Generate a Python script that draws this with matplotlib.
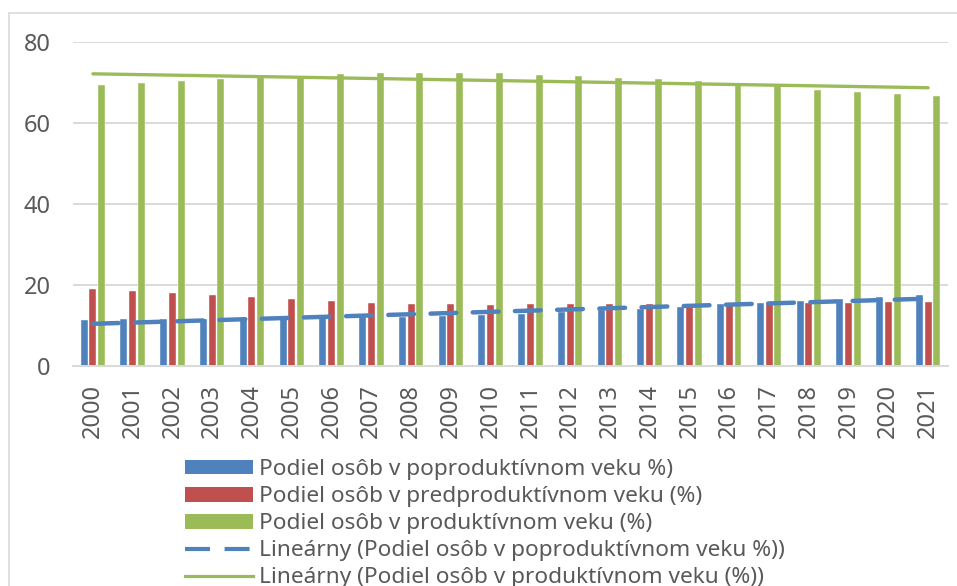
import numpy as np
import matplotlib
matplotlib.use("Agg")
import matplotlib.pyplot as plt
from matplotlib.patches import Patch, Rectangle
from matplotlib.lines import Line2D

years = [str(y) for y in range(2000, 2022)]
post_productive = [11.4, 11.5, 11.5, 11.6, 11.7, 11.8, 11.9, 12.1, 12.2, 12.4, 12.6,
                   12.9, 13.3, 13.7, 14.1, 14.6, 15.2, 15.6, 16.1, 16.6, 17.1, 17.4]
pre_productive = [19.0, 18.6, 18.0, 17.5, 17.0, 16.5, 16.0, 15.6, 15.4, 15.2, 15.1,
                  15.3, 15.2, 15.2, 15.2, 15.3, 15.3, 15.5, 15.6, 15.6, 15.8, 15.9]
productive = [69.4, 69.9, 70.4, 70.9, 71.2, 71.5, 72.0, 72.3, 72.4, 72.4, 72.3,
              71.8, 71.5, 71.1, 70.7, 70.2, 69.4, 69.0, 68.2, 67.7, 67.1, 66.5]
yticks = [0, 20, 40, 60, 80]

labels = ["Podiel osôb v poproduktívnom veku %)",
          "Podiel osôb v predproduktívnom veku (%)",
          "Podiel osôb v produktívnom veku (%)",
          "Lineárny (Podiel osôb v poproduktívnom veku %))",
          "Lineárny (Podiel osôb v produktívnom veku (%))"]

BLUE = "#4F81BD"
RED = "#C0504D"
GREEN = "#9BBB59"
GRID = "#D9D9D9"
TXT = "#595959"

plt.rcParams['font.family'] = ['Noto Sans', 'DejaVu Sans']

W, H = 957, 586
fig = plt.figure(figsize=(W / 100, H / 100), dpi=100)
ax = fig.add_axes([73 / W, 1 - 366 / H, (948 - 73) / W, (366 - 41.7) / H])

x = np.arange(len(years))
bw = 0.176
off = 0.22
ax.bar(x - off, post_productive, bw, color=BLUE, edgecolor="white", linewidth=0.3, zorder=2)
ax.bar(x, pre_productive, bw, color=RED, edgecolor="white", linewidth=0.3, zorder=2)
ax.bar(x + off, productive, bw, color=GREEN, edgecolor="white", linewidth=0.3, zorder=2)

cb = np.polyfit(x, post_productive, 1)
cg = np.polyfit(x, productive, 1)
ax.plot(x, np.polyval(cb, x), color=BLUE, lw=3.2, dashes=(5.8, 3.7),
        dash_capstyle="round", zorder=3)
ax.plot(x, np.polyval(cg, x), color=GREEN, lw=2.4, solid_capstyle="round", zorder=3)

ax.set_xlim(-0.5, len(years) - 0.5)
ax.set_ylim(0, 80)
ax.set_yticks(yticks)
ax.set_yticklabels([str(v) for v in yticks])
ax.set_xticks(x)
ax.set_xticklabels(years, rotation=90)
ax.tick_params(axis="both", length=0, labelsize=17, colors=TXT)
ax.tick_params(axis="y", pad=16)
ax.tick_params(axis="x", pad=13)
ax.grid(axis="y", color=GRID, lw=1.4, zorder=0)
ax.set_axisbelow(True)
for s in ["top", "right", "left"]:
    ax.spines[s].set_visible(False)
ax.spines["bottom"].set_color(GRID)
ax.spines["bottom"].set_linewidth(1.4)

handles = [Patch(facecolor=BLUE), Patch(facecolor=RED), Patch(facecolor=GREEN),
           Line2D([0], [0], color=BLUE, lw=3.0, dashes=(6.0, 3.5)),
           Line2D([0], [0], color=GREEN, lw=2.3)]
leg = fig.legend(handles, labels, loc="upper left", bbox_to_anchor=(185 / W, 1 - 459 / H),
                 frameon=False, fontsize=16.3, handlelength=3.0, handleheight=0.63,
                 handletextpad=0.25, labelspacing=0.27, borderpad=0, borderaxespad=0)
for t in leg.get_texts():
    t.set_color(TXT)

fig.patches.append(Rectangle((9 / W, -0.1), 1.2, 1 - 13 / H + 0.1, transform=fig.transFigure,
                             fill=False, edgecolor=GRID, lw=1.2))

fig.savefig("out.png", dpi=100, facecolor="white")
